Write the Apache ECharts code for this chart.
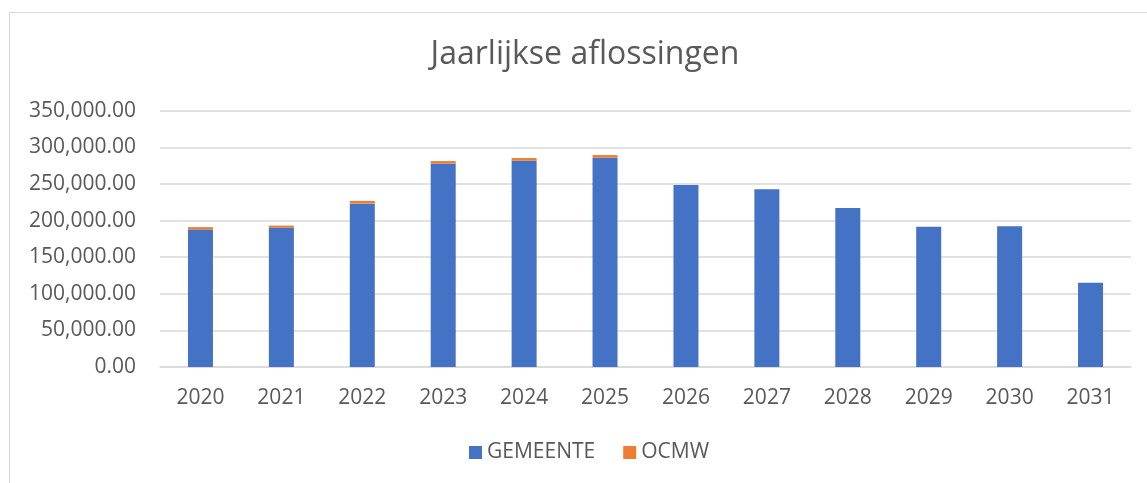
<!DOCTYPE html>
<html>
<head>
<meta charset="utf-8">
<title>Jaarlijkse aflossingen</title>
<script src="https://cdn.jsdelivr.net/npm/echarts@6/dist/echarts.min.js"></script>
<style>
    html, body { margin: 0; padding: 0; background: #fff; }
    #frame {
        position: absolute; left: 9px; top: 12px; width: 1200px; height: 500px;
        border-left: 1px solid #d9d9d9; border-top: 1px solid #d9d9d9;
        pointer-events: none;
    }
    #chart { width: 1147px; height: 483px; }
</style>
</head>
<body>
<div id="chart"></div>
<div id="frame"></div>
<script>
// jaren op de x-as
var jaren = ['2020', '2021', '2022', '2023', '2024', '2025', '2026', '2027', '2028', '2029', '2030', '2031'];
// aflossingen per jaar
var gemeente = [187700, 190400, 223100, 277600, 281700, 285800, 248600, 242700, 217200, 191400, 192300, 115100];
var ocmw = [3300, 2700, 3700, 3600, 3600, 3600, 0, 0, 0, 0, 0, 0];

var font = '"Open Sans", sans-serif';
var grijs = '#595959';

var myChart = echarts.init(document.getElementById('chart'));
myChart.setOption({
    animation: false,
    textStyle: { fontFamily: font },
    title: {
        text: 'Jaarlijkse aflossingen',
        left: 585,
        top: 39,
        padding: 0,
        textAlign: 'center',
        textStyle: { fontFamily: font, fontSize: 32, fontWeight: 'normal', color: grijs }
    },
    legend: {
        left: 469,
        top: 442,
        padding: 0,
        icon: 'rect',
        itemWidth: 13,
        itemHeight: 13,
        itemGap: 28,
        textStyle: { fontFamily: font, fontSize: 21, color: grijs },
        data: ['GEMEENTE', 'OCMW']
    },
    grid: { left: 160, right: 16, top: 110.7, bottom: 116 },
    xAxis: {
        type: 'category',
        data: jaren,
        axisTick: { show: false },
        axisLine: { lineStyle: { color: '#d9d9d9', width: 1.5 } },
        axisLabel: { fontFamily: font, fontSize: 21, color: grijs, margin: 21 }
    },
    yAxis: {
        type: 'value',
        min: 0,
        max: 350000,
        interval: 50000,
        axisLine: { show: false },
        axisTick: { show: false },
        splitLine: { lineStyle: { color: '#d9d9d9', width: 1.5 } },
        axisLabel: {
            fontFamily: font, fontSize: 21, color: grijs, margin: 24,
            formatter: function (v) {
                return v.toLocaleString('en-US', { minimumFractionDigits: 2, maximumFractionDigits: 2 });
            }
        }
    },
    series: [
        { name: 'GEMEENTE', type: 'bar', stack: 'totaal', barWidth: 25, data: gemeente, itemStyle: { color: '#4472C4' } },
        { name: 'OCMW', type: 'bar', stack: 'totaal', barWidth: 25, data: ocmw, itemStyle: { color: '#ED7D31' } }
    ]
});
</script>
</body>
</html>
